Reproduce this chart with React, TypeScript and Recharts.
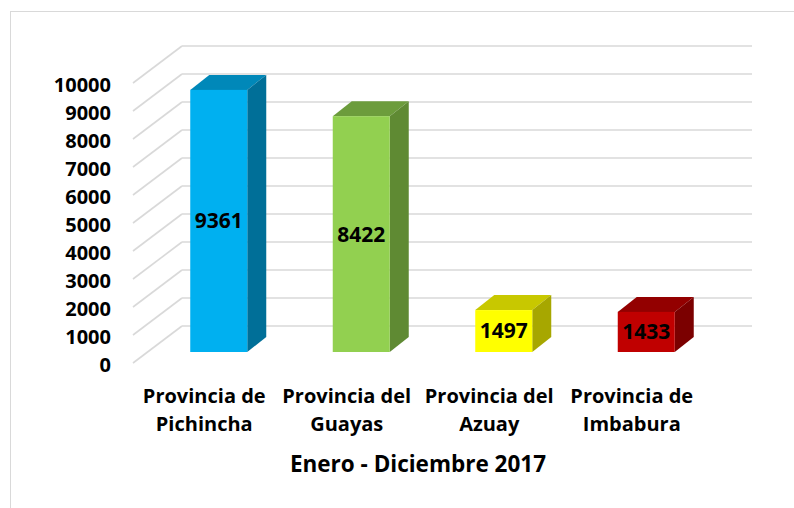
import { BarChart, Bar, XAxis, YAxis, CartesianGrid, LabelList, Label, Cell } from 'recharts';

const provinces = [
  ['Provincia de', 'Pichincha'],
  ['Provincia del', 'Guayas'],
  ['Provincia del', 'Azuay'],
  ['Provincia de', 'Imbabura'],
];
const totals = [9361, 8422, 1497, 1433];
const yTicks = [0, 1000, 2000, 3000, 4000, 5000, 6000, 7000, 8000, 9000, 10000];

const frontColors = ['#00B0F0', '#92D050', '#FFFF00', '#C00000'];
const topColors = ['#0088B9', '#6C9C3C', '#C8C800', '#930000'];
const sideColors = ['#006F98', '#5F8A33', '#A7A700', '#7B0000'];

const data = provinces.map((lines, i) => ({
  name: lines.join(' '),
  lines,
  value: totals[i],
}));

const FONT = '"Open Sans", sans-serif';
const GRID = '#d9d9d9';

// 3d offsets, in pixels
const DEPTH_X = 19;
const DEPTH_Y = 15;
const FRONT_DX = 14.5; // bar front plane -> chart front plane
const FRONT_DY = 11;
const WALL_DX = 34.5; // bar front plane -> back wall
const WALL_DY = 26;

function Box(props: any) {
  const { x, y, width, height, index } = props;
  if (width == null || height == null) return null;
  const r = x + width;
  const b = y + height;
  return (
    <g>
      <polygon
        points={`${x},${y} ${x + DEPTH_X},${y - DEPTH_Y} ${r + DEPTH_X},${y - DEPTH_Y} ${r},${y}`}
        fill={topColors[index]}
      />
      <polygon
        points={`${r},${y} ${r + DEPTH_X},${y - DEPTH_Y} ${r + DEPTH_X},${b - DEPTH_Y} ${r},${b}`}
        fill={sideColors[index]}
      />
      <rect x={x} y={y} width={width} height={height} fill={frontColors[index]} />
    </g>
  );
}

function GridLine(props: any) {
  const { x1, x2, y1 } = props;
  const fx = x1 - FRONT_DX;
  const fy = y1 + FRONT_DY;
  const bx = x1 + WALL_DX;
  const by = y1 - WALL_DY;
  return (
    <g stroke={GRID} strokeWidth={1.6} fill="none">
      <line x1={fx} y1={fy} x2={bx} y2={by} />
      <line x1={bx} y1={by} x2={x2 + WALL_DX} y2={by} />
    </g>
  );
}

function YTick(props: any) {
  const { x, y, payload } = props;
  return (
    <text
      x={x}
      y={y + FRONT_DY + 1}
      textAnchor="end"
      dominantBaseline="central"
      fontFamily={FONT}
      fontWeight={700}
      fontSize={20}
      fill="#000"
    >
      {payload.value}
    </text>
  );
}

function XTick(props: any) {
  const { x, y, index } = props;
  const lines = data[index]?.lines ?? [];
  return (
    <g>
      {lines.map((t: string, i: number) => (
        <text
          key={i}
          x={x - FRONT_DX}
          y={y + 43 + i * 28}
          textAnchor="middle"
          dominantBaseline="central"
          fontFamily={FONT}
          fontWeight={700}
          fontSize={20}
          fill="#000"
        >
          {t}
        </text>
      ))}
    </g>
  );
}

export default function App() {
  return (
    <div style={{ position: 'fixed', left: 0, top: 0, width: 794, height: 508, background: '#fff' }}>
      <div
        style={{
          position: 'absolute',
          left: 10,
          top: 11,
          right: -10,
          bottom: -10,
          borderLeft: `1.5px solid ${GRID}`,
          borderTop: `1.5px solid ${GRID}`,
        }}
      />
      <BarChart
        width={794}
        height={508}
        data={data}
        margin={{ top: 72, right: 76.5, bottom: 26, left: 87.5 }}
        barCategoryGap="30%"
        style={{ position: 'absolute', left: 0, top: 0 }}
      >
        <CartesianGrid vertical={false} horizontal={(p: any) => <GridLine key={p.key} {...p} />} />
        <YAxis
          width={60}
          domain={[0, 10000]}
          ticks={yTicks}
          interval={0}
          axisLine={false}
          tickLine={false}
          tickSize={0}
          tickMargin={36.5}
          tick={<YTick />}
        />
        <XAxis
          dataKey="name"
          height={130}
          axisLine={false}
          tickLine={false}
          tickSize={0}
          tickMargin={0}
          interval={0}
          tick={<XTick />}
        >
          <Label
            content={({ viewBox }: any) => (
              <text
                x={viewBox.x + viewBox.width / 2 - FRONT_DX}
                y={viewBox.y + 111}
                textAnchor="middle"
                dominantBaseline="central"
                fontFamily={FONT}
                fontWeight={700}
                fontSize={22.5}
                fill="#000"
              >
                Enero - Diciembre 2017
              </text>
            )}
          />
        </XAxis>
        <Bar dataKey="value" shape={<Box />} isAnimationActive={false}>
          {data.map((d, i) => (
            <Cell key={d.name} fill={frontColors[i]} />
          ))}
          <LabelList
            dataKey="value"
            position="center"
            fill="#000"
            fontFamily={FONT}
            fontWeight={700}
            fontSize={21}
          />
        </Bar>
      </BarChart>
    </div>
  );
}
